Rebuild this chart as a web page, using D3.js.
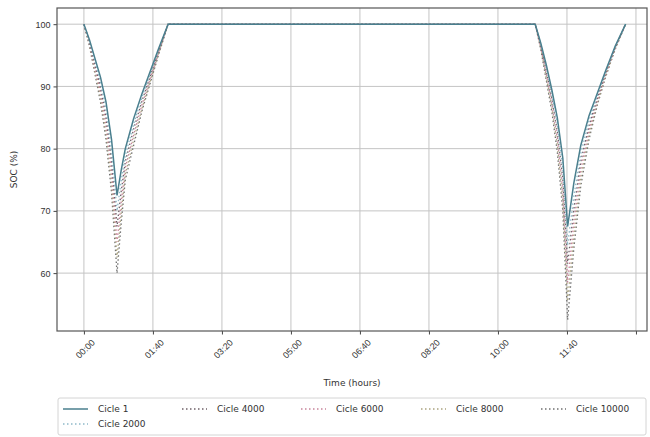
<!DOCTYPE html>
<html>
<head>
<meta charset="utf-8">
<script src="https://cdn.jsdelivr.net/npm/d3@7"></script>
<style>
  html, body { margin: 0; padding: 0; background: #fff; }
  svg { display: block; font-family: "DejaVu Sans", sans-serif; }
</style>
</head>
<body>
<svg id="chart" width="650" height="437"></svg>
<script>
// Time in minutes since 00:00
const times = [0, 8, 16, 24, 32, 40, 48, 54, 60, 72, 84, 96, 108, 122,
               654, 662, 670, 678, 686, 694, 701, 710, 720, 732, 744, 756, 770, 785];

const seriesNames = ["Cicle 1", "Cicle 2000", "Cicle 4000", "Cicle 6000", "Cicle 8000", "Cicle 10000"];

// State of charge (%) per cycle, one value per entry of `times`
const soc1 = [100, 97.5, 94.5, 91.5, 87.5, 81.5, 72.5, 76.5, 80.0, 84.8, 88.8, 92.4, 96.0, 100,
              100, 97.0, 93.5, 89.5, 85.0, 78.5, 67.5, 74.5, 80.5, 85.3, 88.9, 92.5, 96.5, 100];
const soc2000 = [100, 97.3, 94.0, 90.7, 86.3, 79.8, 70.0, 74.8, 78.9, 83.9, 88.2, 92.0, 95.8, 100,
                 100, 96.8, 93.0, 88.8, 83.9, 76.8, 64.5, 72.4, 79.2, 84.5, 88.5, 92.3, 96.4, 100];
const soc4000 = [100, 97.1, 93.5, 89.9, 85.1, 78.1, 67.5, 73.1, 77.9, 83.1, 87.6, 91.6, 95.6, 100,
                 100, 96.6, 92.5, 88.1, 82.8, 75.1, 61.5, 70.3, 77.9, 83.7, 88.1, 92.1, 96.3, 100];
const soc6000 = [100, 96.9, 93.0, 89.1, 83.9, 76.4, 65.0, 71.4, 76.9, 82.2, 87.0, 91.2, 95.4, 100,
                 100, 96.4, 92.0, 87.4, 81.7, 73.4, 58.5, 68.2, 76.6, 82.9, 87.7, 91.9, 96.2, 100];
const soc8000 = [100, 96.7, 92.5, 88.3, 82.7, 74.7, 62.5, 69.7, 75.9, 81.4, 86.4, 90.8, 95.2, 100,
                 100, 96.2, 91.5, 86.7, 80.6, 71.7, 55.5, 66.1, 75.3, 82.2, 87.3, 91.7, 96.1, 100];
const soc10000 = [100, 96.5, 92.0, 87.5, 81.5, 73.0, 60.0, 68.0, 75.0, 80.5, 86.0, 90.5, 95.0, 100,
                  100, 96.0, 91.0, 86.0, 79.5, 70.0, 52.5, 64.0, 74.0, 81.5, 87.0, 91.5, 96.0, 100];

const xTicks = [0, 100, 200, 300, 400, 500, 600, 700, 800];
const xTickLabels = ["00:00", "01:40", "03:20", "05:00", "06:40", "08:20", "10:00", "11:40", ""];
const yTicks = [60, 70, 80, 90, 100];

const allSeries = [soc1, soc2000, soc4000, soc6000, soc8000, soc10000];
const colors = ["#4a7f8e", "#8fb9c9", "#6f6168", "#c8849a", "#aaa37f", "#707070"];
const dashes = [null, "1.5,2.5", "1.5,2.5", "1.5,2.5", "1.5,2.5", "1.5,2.5"];
const widths = [1.5, 1.3, 1.3, 1.3, 1.3, 1.3];

const svg = d3.select("#chart");
const plotLeft = 57, plotRight = 647, plotTop = 8, plotBottom = 331;

const x = d3.scaleLinear().domain([-39, 816]).range([plotLeft, plotRight]);
const y = d3.scaleLinear().domain([50.7, 102.6]).range([plotBottom, plotTop]);

// Grid
const grid = svg.append("g");
grid.selectAll("line.vx").data(xTicks).join("line")
  .attr("x1", d => x(d)).attr("x2", d => x(d))
  .attr("y1", plotTop).attr("y2", plotBottom)
  .attr("stroke", "#c4c4c4").attr("stroke-width", 1);
grid.selectAll("line.hy").data(yTicks).join("line")
  .attr("x1", plotLeft).attr("x2", plotRight)
  .attr("y1", d => y(d)).attr("y2", d => y(d))
  .attr("stroke", "#c4c4c4").attr("stroke-width", 1);

// Series lines, drawn back to front so Cicle 1 ends on top
const line = d3.line().x((d, i) => x(times[i])).y(d => y(d));
const order = [5, 4, 3, 2, 1, 0];
svg.append("g").selectAll("path").data(order).join("path")
  .attr("d", i => line(allSeries[i]))
  .attr("fill", "none")
  .attr("stroke", i => colors[i])
  .attr("stroke-width", i => widths[i])
  .attr("stroke-dasharray", i => dashes[i]);

// Axes
const xAxis = d3.axisBottom(x).tickValues(xTicks)
  .tickFormat((d, i) => xTickLabels[i]).tickSize(3.5).tickPadding(4);
const gx = svg.append("g").attr("transform", `translate(0,${plotBottom})`).call(xAxis);
gx.select(".domain").remove();
gx.selectAll(".tick line").attr("stroke", "#444");
gx.selectAll(".tick text")
  .attr("font-size", 9).attr("fill", "#333")
  .attr("text-anchor", "middle")
  .attr("dy", null).attr("y", 0)
  .attr("transform", "translate(1,18) rotate(-45)")
  .attr("dominant-baseline", "central");

const yAxis = d3.axisLeft(y).tickValues(yTicks).tickSize(3.5).tickPadding(3);
const gy = svg.append("g").attr("transform", `translate(${plotLeft},0)`).call(yAxis);
gy.select(".domain").remove();
gy.selectAll(".tick line").attr("stroke", "#444");
gy.selectAll(".tick text").attr("font-size", 9).attr("fill", "#333");

// Frame
svg.append("rect")
  .attr("x", plotLeft).attr("y", plotTop)
  .attr("width", plotRight - plotLeft).attr("height", plotBottom - plotTop)
  .attr("fill", "none").attr("stroke", "#555").attr("stroke-width", 1.2);

// Axis titles
svg.append("text")
  .attr("x", (plotLeft + plotRight) / 2).attr("y", 386)
  .attr("text-anchor", "middle").attr("font-size", 9).attr("fill", "#333")
  .text("Time (hours)");
svg.append("text")
  .attr("transform", `translate(17,${(plotTop + plotBottom) / 2}) rotate(-90)`)
  .attr("text-anchor", "middle").attr("font-size", 9).attr("fill", "#333")
  .text("SOC (%)");

// Legend (5 columns, filled column by column)
const lg = svg.append("g");
lg.append("rect")
  .attr("x", 58).attr("y", 398).attr("width", 588).attr("height", 37)
  .attr("fill", "#fff").attr("stroke", "#d4d4d4").attr("rx", 2);
const colX = [63, 182, 301, 421, 541];
const rowY = [409, 424];
const legendPos = [[0, 0], [0, 1], [1, 0], [2, 0], [3, 0], [4, 0]];
seriesNames.forEach((name, i) => {
  const [c, r] = legendPos[i];
  const lx = colX[c], ly = rowY[r];
  lg.append("line")
    .attr("x1", lx).attr("x2", lx + 25)
    .attr("y1", ly).attr("y2", ly)
    .attr("stroke", colors[i]).attr("stroke-width", widths[i])
    .attr("stroke-dasharray", dashes[i]);
  lg.append("text")
    .attr("x", lx + 35).attr("y", ly)
    .attr("dominant-baseline", "central")
    .attr("font-size", 9).attr("fill", "#333")
    .text(name);
});
</script>
</body>
</html>
